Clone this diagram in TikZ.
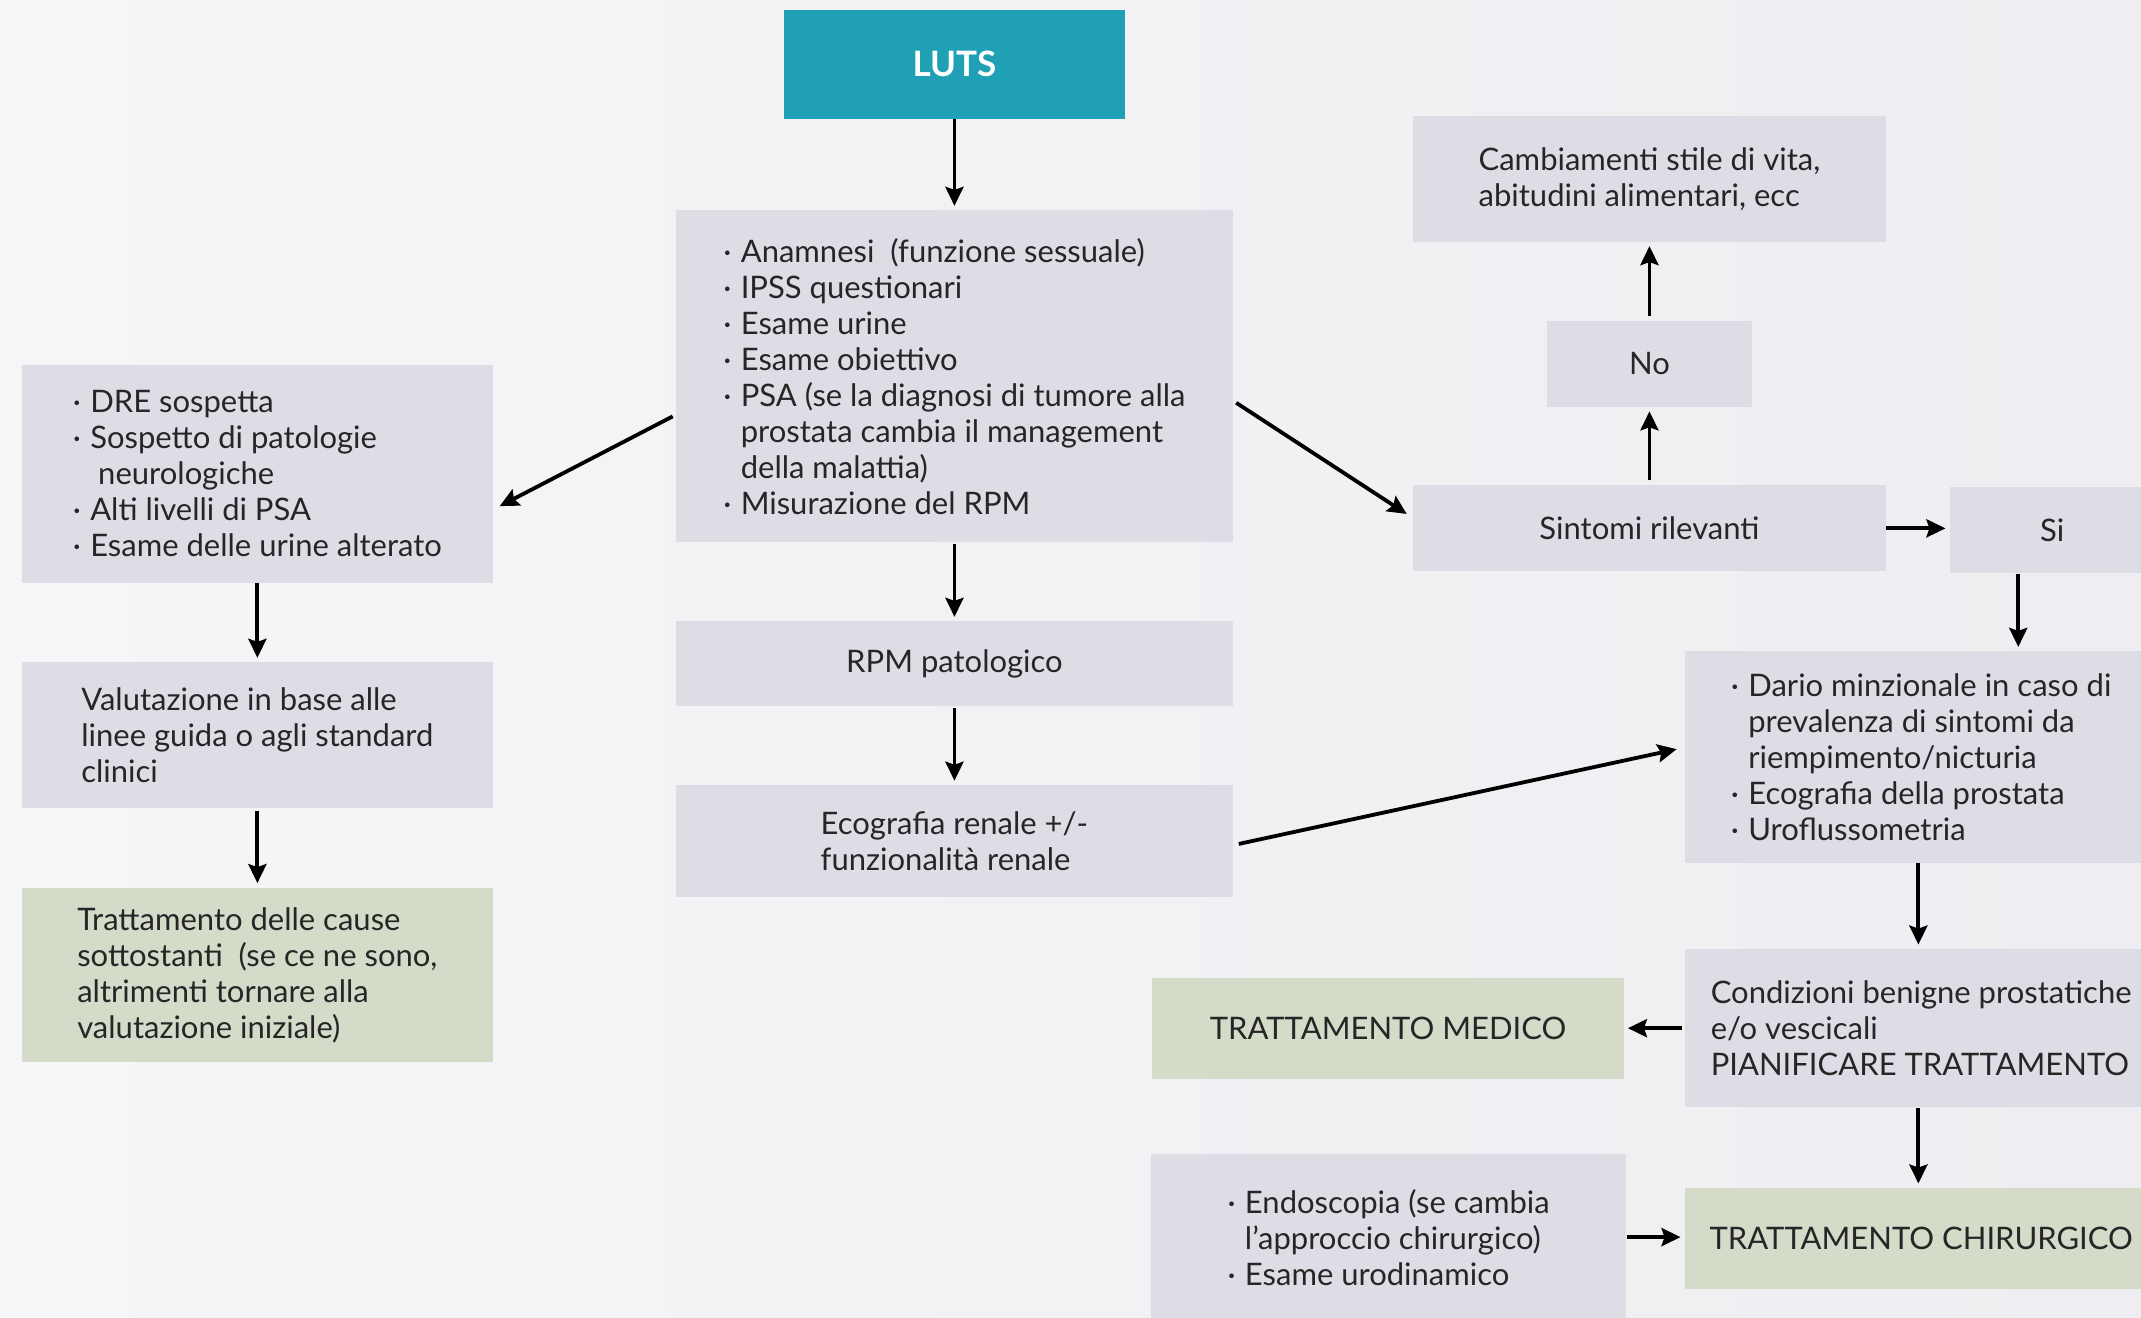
\documentclass[tikz,border=0pt]{standalone}
\usepackage{fontspec}
\setmainfont{Lato}
\usetikzlibrary{arrows.meta}

\definecolor{pagebg}{HTML}{EEEEF2}
\definecolor{pagelight}{HTML}{F6F6F8}
\definecolor{boxgray}{HTML}{DDDDE5}
\definecolor{boxgreen}{HTML}{D4DBC9}
\definecolor{lutsteal}{HTML}{1FA0B4}
\definecolor{ink}{HTML}{262626}

% bullet and hanging indent for list lines
\newcommand\bl{·\hspace{0.3em}}
\newcommand\ind{\hphantom{·\hspace{0.3em}}}

% box given by its corners: name, style, x1, y1, x2, y2, text
\newcommand\flowbox[7]{%
  \node[#2, minimum width={(#5-#3)*0.6827pt}, minimum height={(#6-#4)*0.6827pt}]
    (#1) at ({(#3+#5)/2},{(#4+#6)/2}) {#7};}

\begin{document}
\begin{tikzpicture}[x=0.6827pt, y=-0.6827pt,
  every node/.style={font=\fontsize{15.5}{18}\selectfont, text=ink, inner sep=0pt, align=left},
  graybox/.style={fill=boxgray},
  greenbox/.style={fill=boxgreen},
  tealbox/.style={fill=lutsteal, text=white, font=\bfseries\fontsize{17.5}{20}\selectfont},
  arr/.style={-{Stealth[length=9.5pt, width=9pt, inset=1.5pt]}, line width=1.9pt, draw=black, shorten >=2pt}]

\useasboundingbox (0,0) rectangle (1568,965);
\clip (0,0) rectangle (1568,965);

% page background
\shade[left color=pagelight, right color=pagebg] (0,0) rectangle (1568,965);

% boxes
\flowbox{luts}{tealbox}{574}{7}{824}{87}{LUTS}
\flowbox{ana}{graybox}{495}{154}{903}{397}{%
\bl Anamnesi\ \ (funzione sessuale)\\
\bl IPSS questionari\\
\bl Esame urine\\
\bl Esame obiettivo\\
\bl PSA (se la diagnosi di tumore alla\\
\ind prostata cambia il management\\
\ind della malattia)\\
\bl Misurazione del RPM}
\flowbox{dre}{graybox}{16}{267}{361}{427}{%
\bl DRE sospetta\\
\bl Sospetto di patologie\\
\ind\ neurologiche\\
\bl Alti livelli di PSA\\
\bl Esame delle urine alterato}
\flowbox{val}{graybox}{16}{485}{361}{592}{%
Valutazione in base alle\\
linee guida o agli standard\\
clinici}
\flowbox{cause}{greenbox}{16}{650}{361}{778}{%
Trattamento delle cause\\
sottostanti\ \ (se ce ne sono,\\
altrimenti tornare alla\\
valutazione iniziale)}
\flowbox{rpm}{graybox}{495}{455}{903}{517}{RPM patologico}
\flowbox{eco}{graybox}{495}{575}{903}{657}{%
Ecografia renale +/-\\
funzionalità renale}
\flowbox{cam}{graybox}{1035}{85}{1381}{177}{%
Cambiamenti stile di vita,\\
abitudini alimentari, ecc}
\flowbox{no}{graybox}{1133}{235}{1283}{298}{No}
\flowbox{sin}{graybox}{1035}{355}{1381}{418}{Sintomi rilevanti}
\flowbox{si}{graybox}{1428}{357}{1578}{420}{Si}
\flowbox{dario}{graybox}{1234}{477}{1580}{632}{%
\bl Dario minzionale in caso di\\
\ind prevalenza di sintomi da\\
\ind riempimento/nicturia\\
\bl Ecografia della prostata\\
\bl Uroflussometria}
\flowbox{cond}{graybox}{1234}{695}{1580}{811}{%
Condizioni benigne prostatiche\\
e/o vescicali\\
PIANIFICARE TRATTAMENTO}
\flowbox{med}{greenbox}{844}{716}{1189}{790}{TRATTAMENTO MEDICO}
\flowbox{endo}{graybox}{843}{845}{1191}{967}{%
\bl Endoscopia (se cambia\\
\ind l'approccio chirurgico)\\
\bl Esame urodinamico}
\flowbox{chir}{greenbox}{1234}{870}{1580}{944}{TRATTAMENTO CHIRURGICO}

% connectors
\draw[arr] (luts.south) -- (ana.north);
\draw[arr] ([xshift=-1.4pt, yshift=-20.1pt]ana.west) -- ([xshift=1.4pt, yshift=-17.1pt]dre.east);
\draw[arr] ([xshift=1.4pt, yshift=-13.3pt]ana.east) -- ([xshift=-1.4pt, yshift=5.8pt]sin.west);
\draw[arr] ([yshift=-1pt]ana.south) -- (rpm.north);
\draw[arr] ([yshift=-1pt]rpm.south) -- (eco.north);
\draw[arr] ([xshift=2.7pt, yshift=-1.4pt]eco.east) -- ([xshift=-2pt, yshift=4.4pt]dario.west);
\draw[arr] (dre.south) -- (val.north);
\draw[arr] ([yshift=-1pt]val.south) -- (cause.north);
\draw[arr] ([yshift=2pt]sin.north) -- (no.south);
\draw[arr] ([yshift=2pt]no.north) -- (cam.south);
\draw[arr] ([yshift=-0.3pt]sin.east) -- ([yshift=-0.3pt]sin.east -| si.west);
\draw[arr] ([xshift=-17pt]si.south) -- ([xshift=-17pt]si.south |- dario.north);
\draw[arr] ([xshift=-1.4pt]dario.south) -- ([xshift=-1.4pt]cond.north);
\draw[arr] ([xshift=-1.4pt]cond.west) -- (med.east);
\draw[arr] ([xshift=-1.4pt]cond.south) -- ([xshift=-1.4pt]chir.north);
\draw[arr] (endo.east) -- (endo.east -| chir.west);

\end{tikzpicture}
\end{document}
